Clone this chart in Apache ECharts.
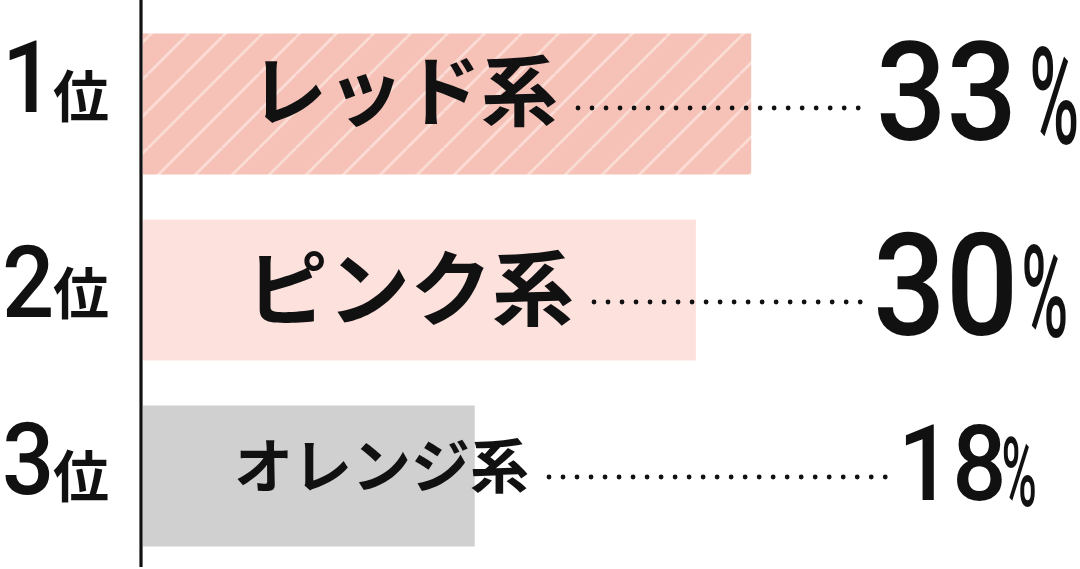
<!DOCTYPE html>
<html lang="ja">
    <head>
        <title>Color Ranking</title>
        <meta charset="utf-8">
        <script src="https://cdn.jsdelivr.net/npm/echarts@6/dist/echarts.min.js"></script>
    </head>

    <style>
        html, body, #main {
            width: 100%;
            height: 100%;
            margin: 0;
            background: #ffffff;
        }
    </style>

    <body>
        <div id="main"></div>

        <script>
            // data
            const categories = ['レッド系', 'ピンク系', 'オレンジ系'];
            const ranks = ['1', '2', '3'];
            const rankSuffix = '位';
            const shares = [33, 30, 18];
            const unit = '%';

            // per-row look (offsets are relative to the bar origin / bar centre)
            const rowStyle = [
                { bar: 'stripe', nameSize: 77, nameX: 107, nameDy: -13, dotDy: 4,
                  valueX: 733, valueSize: 138, valueDy: 1, pctSize: 136, pctDy: 6, pctGap: 12,
                  rankDy: -17, suffixDy: -8.5 },
                { bar: '#fde1dc', nameSize: 82, nameX: 103, nameDy: -2, dotDy: 12,
                  valueX: 730, valueSize: 142, valueDy: 9, pctSize: 128, pctDy: 15, pctGap: 3,
                  rankDy: 2, suffixDy: 3 },
                { bar: '#cfd0cf', nameSize: 59, nameX: 91, nameDy: -10, dotDy: 1,
                  valueX: 755, valueSize: 106, valueDy: -3, pctSize: 96, pctDy: 6, pctGap: -5,
                  rankDy: -7, suffixDy: 0 }
            ];

            const numFont = 'Roboto';
            const jpFont = '"Noto Sans CJK JP"';

            // diagonal white stripes for the top bar
            const makeStripe = () => {
                const s = 37;
                const c = document.createElement('canvas');
                c.width = s;
                c.height = s;
                const ctx = c.getContext('2d');
                ctx.fillStyle = '#f6c2b7';
                ctx.fillRect(0, 0, s, s);
                ctx.strokeStyle = '#fbdcd4';
                ctx.lineWidth = 2.8;
                for (let k = -1; k <= 1; k++) {
                    ctx.beginPath();
                    ctx.moveTo(k * s, s);
                    ctx.lineTo(k * s + s, 0);
                    ctx.stroke();
                }
                return c;
            };

            const measure = document.createElement('canvas').getContext('2d');
            const textWidth = (text, font) => {
                measure.font = font;
                return measure.measureText(text).width;
            };

            const chart = echarts.init(document.getElementById('main'));

            const barData = shares.map((v, i) => ({
                value: v,
                itemStyle: {
                    color: rowStyle[i].bar === 'stripe'
                        ? { image: makeStripe(), repeat: 'repeat' }
                        : rowStyle[i].bar
                }
            }));

            const renderRow = (params, api) => {
                const i = api.value(1);
                const st = rowStyle[i];
                const origin = api.coord([0, i]);
                const x0 = origin[0];
                const yc = origin[1];

                const nameFont = 'bold ' + st.nameSize + 'px ' + jpFont;
                const nameEnd = x0 + st.nameX + textWidth(categories[i], nameFont);
                const valueLeft = x0 + st.valueX;
                const digitScale = 0.9;
                const digits = String(api.value(0));
                const digitW = textWidth(digits, '500 ' + st.valueSize + 'px ' + numFont) * digitScale;

                return {
                    type: 'group',
                    children: [
                        {
                            type: 'text', x: 2, y: yc + st.rankDy, scaleX: 0.92,
                            style: { text: ranks[i], fill: '#111', fontFamily: numFont, fontWeight: 500,
                                     fontSize: 100, align: 'left', verticalAlign: 'middle' }
                        },
                        {
                            type: 'text', x: 53, y: yc + st.suffixDy,
                            style: { text: rankSuffix, fill: '#111', fontFamily: jpFont, fontWeight: 'bold',
                                     fontSize: 56, align: 'left', verticalAlign: 'middle' }
                        },
                        {
                            type: 'text', x: x0 + st.nameX, y: yc + st.nameDy,
                            style: { text: categories[i], fill: '#111', fontFamily: jpFont, fontWeight: 'bold',
                                     fontSize: st.nameSize, align: 'left', verticalAlign: 'middle' }
                        },
                        {
                            type: 'line',
                            shape: { x1: nameEnd + 20, y1: yc + st.dotDy, x2: valueLeft - 12, y2: yc + st.dotDy },
                            style: { stroke: '#111', lineWidth: 4.8, lineCap: 'round', lineDash: [0.01, 14] }
                        },
                        {
                            type: 'text', x: valueLeft, y: yc + st.valueDy, scaleX: digitScale,
                            style: { text: digits, fill: '#111', fontFamily: numFont, fontWeight: 500,
                                     fontSize: st.valueSize, align: 'left', verticalAlign: 'middle' }
                        },
                        {
                            type: 'text', x: valueLeft + digitW + st.pctGap, y: yc + st.pctDy, scaleX: 0.5,
                            style: { text: unit, fill: '#111', fontFamily: numFont, fontWeight: 500,
                                     fontSize: st.pctSize, align: 'left', verticalAlign: 'middle' }
                        }
                    ]
                };
            };

            const option = {
                animation: false,
                backgroundColor: '#ffffff',
                grid: { left: 143, top: 11, width: 921.5, height: 562.5 },
                xAxis: { type: 'value', min: 0, max: 50, show: false },
                yAxis: { type: 'category', data: categories, inverse: true, show: false },
                series: [
                    {
                        type: 'bar',
                        barWidth: 141,
                        silent: true,
                        data: barData
                    },
                    {
                        type: 'custom',
                        silent: true,
                        renderItem: renderRow,
                        encode: { x: 0, y: 1 },
                        data: shares.map((v, i) => [v, i]),
                        z: 5
                    }
                ]
            };

            chart.setOption(option);

            // vertical axis rule, placed from the axis origin
            const axisX = chart.convertToPixel({ gridIndex: 0 }, [0, 0])[0] - 2;
            chart.setOption({
                graphic: [{
                    type: 'line',
                    shape: { x1: axisX, y1: 0, x2: axisX, y2: 567 },
                    style: { stroke: '#111', lineWidth: 3.2 },
                    z: 10
                }]
            });

            window.onresize = function () {
                chart.resize();
            }
        </script>
    </body>
</html>
